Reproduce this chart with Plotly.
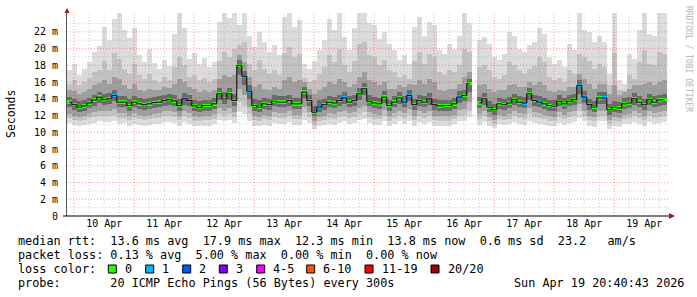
import plotly.graph_objects as go
from datetime import datetime, timedelta

# ---------------- data ----------------
start_time = datetime(2026, 4, 9, 22, 0)   # centre of first 2-hour step
step_hours = 2
n_steps = 120

median_ms = [13.6,13.3,13.0,13.15,13.5,13.85,14.2,13.9,14.0,14.4,
             13.6,13.6,13.2,13.6,13.4,13.3,13.4,13.55,13.6,13.8,
             13.9,13.75,13.2,14.0,13.8,13.15,12.95,13.2,13.2,13.4,
             14.6,14.0,14.6,13.8,18.0,16.7,14.9,13.2,13.0,13.4,
             13.3,13.7,13.6,13.6,13.8,13.4,13.4,14.8,13.8,12.4,
             13.0,13.3,13.6,13.5,13.8,14.1,13.6,13.8,14.6,15.2,
             13.7,13.5,13.4,14.2,13.2,13.6,14.1,13.6,14.4,13.3,
             13.8,13.6,14.0,13.3,13.15,13.2,13.2,13.4,14.2,14.4,
             15.8,None,13.5,14.0,13.0,12.7,13.4,13.3,13.5,13.9,
             13.6,13.5,14.6,13.8,13.6,13.4,13.2,13.1,13.7,13.4,
             13.7,13.9,15.6,14.2,13.3,13.0,14.1,14.1,12.7,13.0,
             12.9,13.4,13.5,14.0,13.6,13.3,13.9,13.6,13.85,13.9]

loss_count = [0,0,0,0,0,0,0,0,0,1,
              0,0,0,0,0,0,0,0,0,0,
              0,0,0,1,1,0,0,0,0,0,
              0,0,0,0,0,1,1,0,0,0,
              0,0,0,0,0,0,0,0,0,0,
              1,0,0,0,0,1,0,0,0,0,
              0,0,0,0,0,0,0,1,1,0,
              0,0,1,1,0,0,0,0,1,0,
              0,0,0,0,0,0,0,0,0,0,
              0,1,0,0,1,0,0,0,0,0,
              0,0,1,1,1,0,0,1,0,0,
              0,0,0,0,0,0,0,0,0,0]

# smoke envelope: outermost (max / min ping) ... innermost
smoke_hi1 = [17.5,18.2,16.8,17.6,18.4,19.6,20.3,22.6,21.0,23.5,
             24.2,22.2,21.3,22.5,19.2,18.4,20.0,18.3,17.6,18.6,
             17.9,21.8,24.2,22.4,18.7,19.5,18.1,18.9,17.8,18.4,
             23.2,24.2,23.6,24.2,22.8,24.2,21.5,20.2,22.0,20.8,
             19.6,20.4,19.2,23.8,24.2,22.6,23.4,18.2,17.6,18.5,
             19.8,21.0,23.5,22.2,24.2,21.4,19.8,22.5,24.2,24.2,
             23.0,22.8,21.2,22.0,20.6,19.8,18.6,19.2,18.2,22.6,
             23.8,21.5,23.2,22.8,19.8,19.4,20.6,20.0,21.5,24.2,
             23.0,None,21.0,21.4,20.6,19.0,18.6,19.4,22.0,21.5,
             20.0,19.6,20.4,20.8,22.5,21.8,19.0,18.2,18.6,17.8,
             20.5,19.8,24.2,22.2,22.0,20.8,21.5,20.8,17.0,24.2,
             16.2,15.8,19.4,18.8,22.2,24.2,21.8,21.5,24.2,24.2]

smoke_hi2 = [15.8,16.2,15.6,16.0,16.5,17.2,17.5,18.5,17.4,19.5,
             18.8,17.6,17.0,18.2,16.8,16.4,17.0,16.2,16.0,16.6,
             16.3,17.8,19.0,18.0,16.6,16.9,16.2,16.5,16.0,16.4,
             18.5,19.6,19.0,20.0,20.4,20.8,18.2,17.4,18.6,17.6,
             17.0,17.5,16.9,19.5,20.2,19.0,19.4,16.5,16.0,16.2,
             17.0,17.8,19.2,18.4,20.0,18.0,17.2,18.5,20.5,20.8,
             19.2,19.0,18.0,18.6,17.4,17.2,16.6,16.9,16.4,18.5,
             19.6,18.2,19.4,19.0,17.2,16.8,17.4,17.2,18.0,20.0,
             19.6,None,17.8,18.0,17.5,16.6,16.4,16.9,18.4,18.0,
             17.4,17.0,17.6,17.9,19.0,18.4,16.6,16.2,16.5,16.0,
             17.4,17.0,19.4,19.0,18.5,17.6,18.2,17.8,15.6,19.5,
             15.0,14.9,16.8,16.4,18.4,19.8,18.2,18.0,19.6,19.4]

smoke_hi3 = [15.0,14.9,14.6,14.8,15.2,15.6,15.9,16.2,15.8,16.6,
             16.4,15.6,15.2,15.8,15.0,14.9,15.2,15.0,15.1,15.4,
             15.3,15.8,16.4,16.0,15.4,15.2,14.8,15.0,14.8,15.1,
             16.4,16.8,16.6,16.9,19.2,18.4,16.6,15.4,15.8,15.2,
             15.0,15.4,15.2,16.2,16.6,16.0,16.2,16.0,15.2,14.6,
             15.0,15.4,16.0,15.8,16.4,16.0,15.4,15.8,16.6,17.2,
             16.2,16.0,15.6,16.0,15.2,15.2,15.6,15.4,15.8,15.6,
             16.2,15.8,16.4,16.0,15.0,14.9,15.2,15.2,15.8,16.6,
             17.2,None,15.6,15.8,15.2,14.8,15.0,15.0,15.6,15.8,
             15.4,15.4,16.0,15.6,16.0,15.6,14.9,14.8,15.0,14.9,
             15.4,15.4,17.0,16.4,15.8,15.2,15.8,15.8,14.6,15.6,
             14.4,14.8,15.2,15.6,15.6,15.8,16.0,15.6,16.0,16.2]

smoke_hi4 = [14.2,14.0,13.7,13.8,14.1,14.5,14.8,14.6,14.7,15.1,
             14.3,14.3,14.0,14.3,14.1,14.0,14.1,14.2,14.3,14.5,
             14.6,14.5,14.0,14.7,14.5,13.9,13.7,13.9,13.9,14.1,
             15.3,14.8,15.3,14.6,18.6,17.3,15.6,14.0,13.8,14.1,
             14.0,14.4,14.3,14.3,14.5,14.1,14.1,15.4,14.5,13.2,
             13.8,14.0,14.3,14.2,14.5,14.8,14.3,14.5,15.3,15.9,
             14.4,14.2,14.1,14.9,13.9,14.3,14.8,14.3,15.1,14.0,
             14.5,14.3,14.7,14.0,13.9,13.9,13.9,14.1,14.9,15.1,
             16.4,None,14.2,14.7,13.7,13.4,14.1,14.0,14.2,14.6,
             14.3,14.2,15.3,14.5,14.3,14.1,13.9,13.8,14.4,14.1,
             14.4,14.6,16.3,14.9,14.0,13.7,14.8,14.8,13.4,13.7,
             13.6,14.1,14.2,14.7,14.3,14.0,14.6,14.3,14.5,14.6]

smoke_lo4 = [13.0,12.7,12.4,12.6,12.9,13.2,13.5,13.3,13.4,13.7,
             13.0,13.0,12.6,13.0,12.8,12.7,12.8,12.9,13.0,13.2,
             13.3,13.1,12.6,13.3,13.1,12.5,12.4,12.6,12.6,12.8,
             13.9,13.4,13.9,13.2,16.8,15.6,14.0,12.6,12.4,12.8,
             12.7,13.1,13.0,13.0,13.2,12.8,12.8,14.1,13.2,11.9,
             12.4,12.7,13.0,12.9,13.2,13.4,13.0,13.2,13.9,14.4,
             13.1,12.9,12.8,13.5,12.6,13.0,13.4,13.0,13.7,12.7,
             13.2,13.0,13.3,12.7,12.6,12.6,12.6,12.8,13.5,13.7,
             14.8,None,12.9,13.3,12.4,12.1,12.8,12.7,12.9,13.3,
             13.0,12.9,13.9,13.2,13.0,12.8,12.6,12.5,13.1,12.8,
             13.1,13.3,14.6,13.5,12.7,12.4,13.4,13.4,12.1,12.4,
             12.3,12.8,12.9,13.3,13.0,12.7,13.3,13.0,13.2,13.3]

smoke_lo3 = [12.2,12.0,11.8,12.0,12.2,12.4,12.6,12.5,12.5,12.8,
             12.3,12.3,12.0,12.3,12.1,12.0,12.1,12.2,12.3,12.5,
             12.5,12.4,12.0,12.5,12.3,11.9,11.8,12.0,12.0,12.2,
             12.9,12.6,12.9,12.4,15.2,14.4,13.0,12.0,11.8,12.1,
             12.0,12.4,12.3,12.3,12.5,12.1,12.1,13.0,12.4,11.3,
             11.8,12.0,12.3,12.2,12.4,12.6,12.3,12.4,12.9,13.2,
             12.4,12.2,12.1,12.7,11.9,12.3,12.6,12.3,12.8,12.0,
             12.5,12.3,12.5,12.0,11.9,11.9,11.9,12.1,12.7,12.8,
             13.6,None,12.2,12.5,11.8,11.5,12.1,12.0,12.2,12.5,
             12.3,12.2,12.9,12.4,12.3,12.1,11.9,11.8,12.4,12.1,
             12.4,12.5,13.4,12.6,12.0,11.8,12.6,12.6,11.5,11.8,
             11.7,12.1,12.2,12.5,12.3,12.0,12.5,12.3,12.4,12.5]

smoke_lo2 = [11.7,11.5,11.3,11.5,11.7,11.8,12.0,11.9,11.9,12.1,
             11.7,11.7,11.5,11.7,11.6,11.5,11.6,11.7,11.7,11.9,
             11.9,11.8,11.5,11.9,11.7,11.4,11.3,11.5,11.5,11.6,
             12.2,12.0,12.2,11.8,13.6,13.2,12.2,11.5,11.3,11.6,
             11.5,11.8,11.7,11.7,11.9,11.6,11.6,12.3,11.8,10.9,
             11.3,11.5,11.7,11.6,11.8,12.0,11.7,11.8,12.2,12.4,
             11.8,11.6,11.6,12.0,11.4,11.7,12.0,11.7,12.1,11.5,
             11.9,11.7,11.9,11.5,11.4,11.4,11.4,11.6,12.0,12.1,
             12.6,None,11.6,11.9,11.3,11.0,11.6,11.5,11.6,11.9,
             11.7,11.6,12.2,11.8,11.7,11.6,11.4,11.3,11.8,11.6,
             11.8,11.9,12.5,12.0,11.5,11.3,12.0,12.0,11.0,11.3,
             11.2,11.6,11.7,11.9,11.7,11.5,11.9,11.7,11.8,11.9]

smoke_lo1 = [11.1,10.9,10.7,10.9,11.0,11.1,11.3,11.2,11.2,11.4,
             11.0,11.1,10.8,11.0,10.9,10.8,10.9,11.0,11.0,11.2,
             11.2,11.1,10.8,11.2,11.0,10.8,10.7,10.8,10.8,11.0,
             11.5,11.3,11.5,11.1,12.4,12.2,11.4,10.8,10.7,10.9,
             10.8,11.1,11.0,11.0,11.2,10.9,10.9,11.5,11.1,10.4,
             10.7,10.9,11.0,10.9,11.1,11.3,11.0,11.1,11.5,11.6,
             11.1,10.9,10.9,11.3,10.8,11.0,11.3,11.0,11.4,10.8,
             11.2,11.0,11.2,10.8,10.8,10.7,10.8,11.0,11.3,11.4,
             11.8,None,10.9,11.2,10.7,10.5,11.0,10.9,11.0,11.2,
             11.0,10.9,11.4,11.1,11.0,10.9,10.8,10.7,11.1,10.9,
             11.1,11.2,11.7,11.3,10.8,10.6,11.3,11.3,10.4,10.7,
             10.6,11.0,11.0,11.2,11.0,10.8,11.2,11.0,11.1,11.2]

y_tick_vals = [0, 2, 4, 6, 8, 10, 12, 14, 16, 18, 20, 22]
y_tick_text = ["0", "2 m", "4 m", "6 m", "8 m", "10 m", "12 m", "14 m",
               "16 m", "18 m", "20 m", "22 m"]

loss_legend = ["0", "1", "2", "3", "4-5", "6-10", "11-19", "20/20"]
loss_legend_colors = ["#26ff00", "#00b8ff", "#0059ff", "#7e00ff",
                      "#ff00ff", "#ff5500", "#ff0000", "#a10000"]

stats_line1 = "median rtt:  13.6 ms avg  17.9 ms max  12.3 ms min  13.8 ms now  0.6 ms sd  23.2   am/s"
stats_line2 = "packet loss: 0.13 % avg  5.00 % max  0.00 % min  0.00 % now"
loss_label = "loss color:"
probe_label = "probe:       20 ICMP Echo Pings (56 Bytes) every 300s"
timestamp = "Sun Apr 19 20:40:43 2026"

# ---------------- geometry ----------------
W, H = 697, 297
ML, MR, MT, MB = 67, 28, 13, 81
PW = W - ML - MR
PH = H - MT - MB


def px(x):
    return (x - ML) / PW


def py(y):
    return (H - MB - y) / PH


times = [start_time + timedelta(hours=step_hours * i) for i in range(n_steps)]
bar_w = step_hours * 3600 * 1000

fig = go.Figure()

bands = [
    (smoke_lo1, smoke_hi1, "#dcdcdc"),
    (smoke_lo2, smoke_hi2, "#c2c2c2"),
    (smoke_lo3, smoke_hi3, "#9e9e9e"),
    (smoke_lo4, smoke_hi4, "#6a6a6a"),
]
for lo, hi, col in bands:
    heights = [None if (a is None or b is None) else b - a for a, b in zip(lo, hi)]
    fig.add_trace(go.Bar(x=times, y=heights, base=lo, width=bar_w,
                         marker=dict(color=col, line=dict(width=0)),
                         hoverinfo="skip", showlegend=False))

# connectors of the median
fig.add_trace(go.Scatter(x=times, y=median_ms, mode="lines",
                         line=dict(color="#000000", width=1, shape="hvh"),
                         connectgaps=False, hoverinfo="skip", showlegend=False))

# coloured median segments
seg_h = 0.4
med_colors = [loss_legend_colors[min(c, 7)] for c in loss_count]
fig.add_trace(go.Bar(x=times,
                     y=[None if m is None else seg_h for m in median_ms],
                     base=[None if m is None else m - seg_h / 2 for m in median_ms],
                     width=bar_w,
                     marker=dict(color=med_colors, line=dict(width=0)),
                     hoverinfo="skip", showlegend=False))

x_start = datetime(2026, 4, 9, 21, 5)
x_end = datetime(2026, 4, 19, 21, 53)
y_top = 24.25

shapes = []
# horizontal grid (drawn above the smoke, like rrdtool)
for v in range(1, 24):
    major = (v % 2 == 0)
    shapes.append(dict(type="line", xref="paper", yref="y", x0=0, x1=1.0,
                       y0=v, y1=v, layer="above",
                       line=dict(color="rgba(255,0,0,0.38)" if major else "rgba(150,150,150,0.45)",
                                 width=1, dash="1px,2px")))
# vertical grid every 6 hours
t = datetime(2026, 4, 10, 0, 0)
while t < x_end:
    major = (t.hour == 0)
    shapes.append(dict(type="line", xref="x", yref="paper", x0=t, x1=t,
                       y0=0, y1=1, layer="above",
                       line=dict(color="rgba(255,0,0,0.38)" if major else "rgba(150,150,150,0.45)",
                                 width=1, dash="1px,2px")))
    t += timedelta(hours=6)

# axis arrows
shapes.append(dict(type="path", xref="paper", yref="paper",
                   path=f"M {px(64.5)} {py(13)} L {px(69.5)} {py(13)} L {px(67)} {py(8)} Z",
                   fillcolor="#a11a1a", line=dict(width=0), layer="above"))
shapes.append(dict(type="path", xref="paper", yref="paper",
                   path=f"M {px(669)} {py(213)} L {px(669)} {py(219)} L {px(675)} {py(216)} Z",
                   fillcolor="#a11a1a", line=dict(width=0), layer="above"))
# x axis line extending slightly left of the y axis
shapes.append(dict(type="line", xref="paper", yref="paper",
                   x0=px(63), x1=px(669), y0=0, y1=0,
                   line=dict(color="#000000", width=1), layer="above"))

mono = "DejaVu Sans Mono"
annotations = []
# y axis title
annotations.append(dict(text="Seconds", xref="paper", yref="paper",
                        x=px(11), y=py(114), textangle=-90, showarrow=False,
                        xanchor="center", yanchor="middle",
                        font=dict(family=mono, size=11.5, color="#000000")))
# watermark
annotations.append(dict(text="RRDTOOL / TOBI OETIKER", xref="paper", yref="paper",
                        x=px(688), y=py(59), textangle=90, showarrow=False,
                        xanchor="center", yanchor="middle",
                        font=dict(family=mono, size=8, color="#b4b4b4")))

legend_font = dict(family=mono, size=11.8, color="#000000")
NB = "\u00a0"


def txt(s, x, y):
    annotations.append(dict(text=s.replace(" ", NB), xref="paper", yref="paper",
                            x=px(x), y=py(y),
                            showarrow=False, xanchor="left", yanchor="middle",
                            font=legend_font))


txt(stats_line1, 16, 241)
txt(stats_line2, 16, 255)
txt(loss_label, 16, 269)
box_x = [108.3, 145.7, 182.7, 219.3, 256.7, 306.7, 365, 431]
for lab, col, bx in zip(loss_legend, loss_legend_colors, box_x):
    shapes.append(dict(type="rect", xref="paper", yref="paper",
                       x0=px(bx), x1=px(bx + 8), y0=py(273), y1=py(265),
                       fillcolor=col, line=dict(color="#000000", width=1)))
    txt(lab, bx + 14.5, 269)
txt(probe_label, 16, 283)
txt(timestamp, 511.5, 283)

fig.update_layout(
    width=W, height=H, autosize=False,
    margin=dict(l=ML, r=MR, t=MT, b=MB, pad=0),
    paper_bgcolor="#ffffff", plot_bgcolor="#ffffff",
    barmode="overlay", bargap=0, showlegend=False,
    shapes=shapes, annotations=annotations,
    xaxis=dict(type="date", range=[x_start, x_end], showgrid=False,
               dtick=86400000, tick0="2026-04-10", tickformat="%d %b",
               ticklabelmode="period", ticks="", showline=False, zeroline=False,
               tickfont=dict(family=mono, size=10, color="#000000"),
               fixedrange=True),
    yaxis=dict(range=[0, y_top], tickvals=y_tick_vals, ticktext=y_tick_text,
               showgrid=False, zeroline=False, ticks="", ticklabelstandoff=6,
               showline=True, linecolor="#555555", linewidth=1,
               layer="above traces",
               tickfont=dict(family=mono, size=10, color="#000000"),
               fixedrange=True),
)

fig.write_html("out.html")
